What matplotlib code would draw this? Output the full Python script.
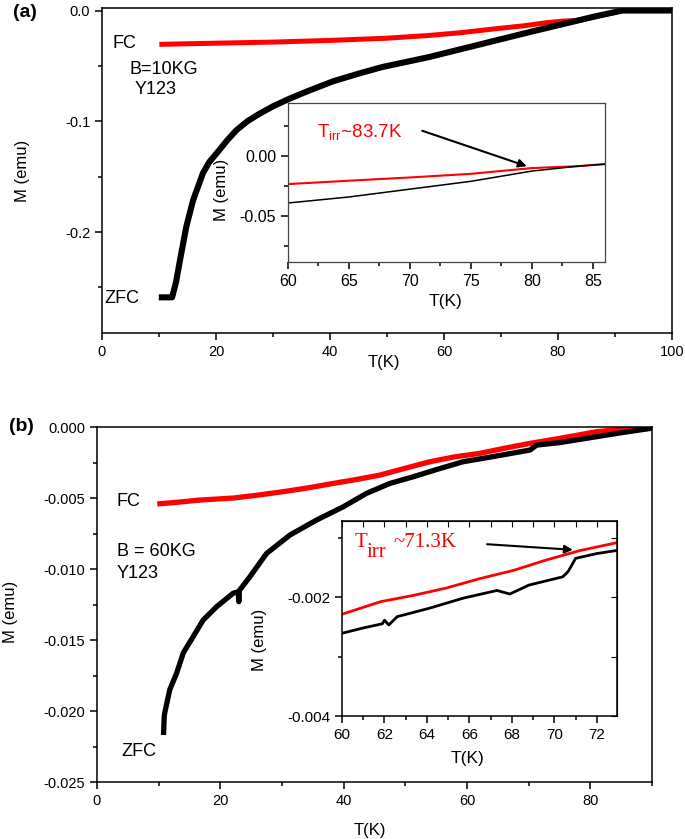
import matplotlib
matplotlib.use('Agg')
import matplotlib.pyplot as plt
from matplotlib.ticker import MultipleLocator, FormatStrFormatter, FixedLocator, FuncFormatter

plt.rcParams['font.family'] = ['Liberation Sans', 'DejaVu Sans']
plt.rcParams['axes.unicode_minus'] = False

# panel (a), B = 10 kG
a_zfc_T = [10.5, 12.3, 13.0, 13.7, 14.8, 16.0, 17.7, 18.8, 20.1, 22.0, 23.6, 25.5, 27.7, 30.0, 32.9, 36.0, 40.5,
           45.0, 49.2, 57.4, 66.0, 75.0, 83.5, 86.6, 91.3, 100]
a_zfc_M = [-0.259, -0.259, -0.245, -0.225, -0.195, -0.171, -0.147, -0.137, -0.129, -0.117, -0.108, -0.100, -0.093,
           -0.0865, -0.0796, -0.073, -0.064, -0.057, -0.051, -0.042, -0.031, -0.0195, -0.009, -0.0052, 0.0, 0.0]
a_fc_T = [10.5, 20, 30, 40, 50, 57.4, 63, 69, 74, 78, 81, 83.5, 87, 91.3, 100]
a_fc_M = [-0.0305, -0.0295, -0.0285, -0.027, -0.025, -0.0225, -0.020, -0.0165, -0.0138, -0.011, -0.0095, -0.009,
          -0.005, 0.0, 0.0]

a_ins_T = [60, 65, 70, 75, 80, 83.7, 86]
a_ins_zfc = [-0.039, -0.034, -0.0275, -0.021, -0.0125, -0.0085, -0.0067]
a_ins_fc = [-0.0233, -0.0205, -0.0178, -0.0148, -0.0100, -0.0085, -0.0067]

# panel (b), B = 60 kG
b_zfc_T = [10.8, 10.9, 11.0, 11.8, 12.9, 14.0, 15.6, 17.2, 19.4, 22.1, 22.9, 23.0, 23.1, 24.8, 27.5, 31.3, 35.6,
           40.0, 43.7, 47.5, 51.3, 55.0, 59.4, 64.0, 70.2, 71.3, 75.0, 81.0, 85.0, 89.7, 90]
b_zfc_M = [-0.0215, -0.0204, -0.0201, -0.0185, -0.01735, -0.0159, -0.01476, -0.0136, -0.01265, -0.0117, -0.0116,
           -0.0123, -0.0115, -0.01054, -0.0089, -0.0076, -0.00655, -0.0056, -0.00467, -0.00397, -0.0035, -0.003,
           -0.00244, -0.0021, -0.00162, -0.00127, -0.0011, -0.00068, -0.0004, -0.0001, 0.0]
b_fc_T = [10.2, 13, 16.7, 22.1, 26, 30.2, 34, 38.3, 42, 45.9, 50, 54, 58, 62.1, 66, 70.2, 75, 81, 85, 89.7]
b_fc_M = [-0.0054, -0.0053, -0.00514, -0.0050, -0.0048, -0.00455, -0.0043, -0.00397, -0.0037, -0.00338, -0.0029,
          -0.00244, -0.0021, -0.00185, -0.0015, -0.00115, -0.0008, -0.00033, -0.00015, 0.0]

b_ins_fc_T = [60, 61.8, 63.4, 64.9, 66.5, 68.1, 69.6, 71.2, 72.9]
b_ins_fc_M = [-0.00229, -0.00208, -0.00197, -0.00185, -0.00169, -0.00155, -0.00138, -0.00122, -0.00109]
b_ins_zfc_T = [60, 61, 61.9, 62.0, 62.2, 62.6, 64.1, 65.7, 67.3, 67.9, 68.8, 70.4, 70.65, 71.0, 72.0, 72.9]
b_ins_zfc_M = [-0.00261, -0.00252, -0.00245, -0.00239, -0.00247, -0.00233, -0.00219, -0.00202, -0.00189, -0.00195,
               -0.0018, -0.00166, -0.00157, -0.00135, -0.00127, -0.00122]


def style(ax, fs=10.5):
    ax.tick_params(which='both', direction='out', width=1.1, labelsize=fs)
    ax.tick_params(which='major', length=5)
    ax.tick_params(which='minor', length=3)
    for s in ax.spines.values():
        s.set_linewidth(1.1)


def fmt3(v, pos):
    s = '%.3f' % v
    return '0.000' if s == '-0.000' else s


fig = plt.figure(figsize=(6.85, 8.39), dpi=100)

# ---------- (a)
ax = fig.add_axes([0.1489, 0.6031, 0.8321, 0.3874])
ax.plot(a_fc_T, a_fc_M, color='red', lw=3.6)
ax.plot(a_zfc_T, a_zfc_M, color='black', lw=4.4)
ax.set_xlim(0, 100)
ax.set_ylim(-0.2912, 0.0023)
ax.xaxis.set_major_locator(MultipleLocator(20))
ax.xaxis.set_minor_locator(MultipleLocator(10))
ax.yaxis.set_major_locator(MultipleLocator(0.1))
ax.yaxis.set_minor_locator(MultipleLocator(0.05))
ax.yaxis.set_major_formatter(FormatStrFormatter('%.1f'))
style(ax)
ax.set_xlabel('T(K)', fontsize=12)
ax.set_ylabel('M (emu)', fontsize=12)
ax.xaxis.set_label_coords(0.494, -0.068)
ax.yaxis.set_label_coords(-0.126, 0.5)
ax.text(1.9, -0.0296, 'FC', fontsize=13, va='center')
ax.text(4.9, -0.0537, 'B=10KG', fontsize=13, va='center')
ax.text(5.8, -0.0712, 'Y123', fontsize=13, va='center')
ax.text(0.5, -0.260, 'ZFC', fontsize=13, va='center')
fig.text(0.036, 0.985, '(a)', fontsize=14, fontweight='bold', ha='center', va='center')

axi = fig.add_axes([0.4204, 0.6877, 0.4628, 0.1895])
axi.plot(a_ins_T, a_ins_fc, color='red', lw=1.5)
axi.plot(a_ins_T, a_ins_zfc, color='black', lw=1.1)
axi.set_xlim(60, 86)
axi.set_ylim(-0.088, 0.044)
axi.xaxis.set_major_locator(MultipleLocator(5))
axi.xaxis.set_minor_locator(MultipleLocator(2.5))
axi.yaxis.set_major_locator(MultipleLocator(0.05))
axi.yaxis.set_minor_locator(MultipleLocator(0.025))
axi.yaxis.set_major_formatter(FormatStrFormatter('%.2f'))
style(axi, 11.5)
for s in axi.spines.values():
    s.set_color('#444444')
    s.set_linewidth(0.9)
axi.set_xlabel('T(K)', fontsize=12.5)
axi.set_ylabel('M (emu)', fontsize=12)
axi.xaxis.set_label_coords(0.498, -0.2)
axi.yaxis.set_label_coords(-0.185, 0.453)
axi.text(62.4, 0.0153, r'T$_{\mathregular{irr}}$~83.7K', color='red', fontsize=13.5, va='baseline')
axi.annotate('', xy=(79.8, -0.0092), xytext=(70.8, 0.0217),
             arrowprops=dict(arrowstyle='-|>', color='black', lw=1.5, mutation_scale=12))

# ---------- (b)
bx = fig.add_axes([0.1416, 0.0679, 0.8102, 0.4231])
bx.plot(b_fc_T, b_fc_M, color='red', lw=3.8)
bx.plot(b_zfc_T, b_zfc_M, color='black', lw=3.8)
bx.set_xlim(0, 90)
bx.set_ylim(-0.025, 0.0)
bx.xaxis.set_major_locator(MultipleLocator(20))
bx.xaxis.set_minor_locator(MultipleLocator(10))
bx.yaxis.set_major_locator(MultipleLocator(0.005))
bx.yaxis.set_minor_locator(MultipleLocator(0.0025))
bx.yaxis.set_major_formatter(FuncFormatter(fmt3))
style(bx)
bx.set_xlabel('T(K)', fontsize=12)
bx.set_ylabel('M (emu)', fontsize=12)
bx.xaxis.set_label_coords(0.492, -0.115)
bx.yaxis.set_label_coords(-0.142, 0.48)
bx.text(3.2, -0.00526, 'FC', fontsize=13, va='center')
bx.text(3.2, -0.00878, 'B = 60KG', fontsize=13, va='center')
bx.text(3.2, -0.0103, 'Y123', fontsize=13, va='center')
bx.text(4.0, -0.02287, 'ZFC', fontsize=13, va='center')
fig.text(0.031, 0.492, '(b)', fontsize=14, fontweight='bold', ha='center', va='center')

bxi = fig.add_axes([0.4993, 0.1466, 0.4015, 0.2324])
bxi.plot(b_ins_fc_T, b_ins_fc_M, color='red', lw=2.0)
bxi.plot(b_ins_zfc_T, b_ins_zfc_M, color='black', lw=2.0)
bxi.set_xlim(60, 72.95)
bxi.set_ylim(-0.004, -0.000723)
bxi.xaxis.set_major_locator(MultipleLocator(2))
bxi.xaxis.set_minor_locator(MultipleLocator(1))
bxi.yaxis.set_major_locator(FixedLocator([-0.004, -0.002]))
bxi.yaxis.set_minor_locator(FixedLocator([-0.003, -0.001]))
bxi.yaxis.set_major_formatter(FormatStrFormatter('%.3f'))
style(bxi, 11)
top = bxi.secondary_xaxis('top')
top.xaxis.set_major_locator(MultipleLocator(1))
top.tick_params(direction='in', length=4, labeltop=False)
right = bxi.secondary_yaxis('right')
right.yaxis.set_major_locator(MultipleLocator(0.001))
right.tick_params(direction='in', length=4, labelright=False)
bxi.set_xlabel('T(K)', fontsize=12.5)
bxi.set_ylabel('M (emu)', fontsize=12)
bxi.xaxis.set_label_coords(0.455, -0.178)
bxi.yaxis.set_label_coords(-0.271, 0.39)
serif = ['Liberation Serif', 'DejaVu Serif']
bxi.text(60.61, -0.001155, 'T', family=serif, color='red', fontsize=15, va='baseline')
bxi.text(61.15, -0.00133, 'irr', family=serif, color='red', fontsize=15, va='baseline')
bxi.text(62.4, -0.001155, '~71.3K', family=serif, color='red', fontsize=15, va='baseline')
bxi.annotate('', xy=(71.0, -0.00121), xytext=(66.7, -0.00111),
             arrowprops=dict(arrowstyle='-|>', color='black', lw=1.5, mutation_scale=12))

plt.savefig('out.png', dpi=100)
